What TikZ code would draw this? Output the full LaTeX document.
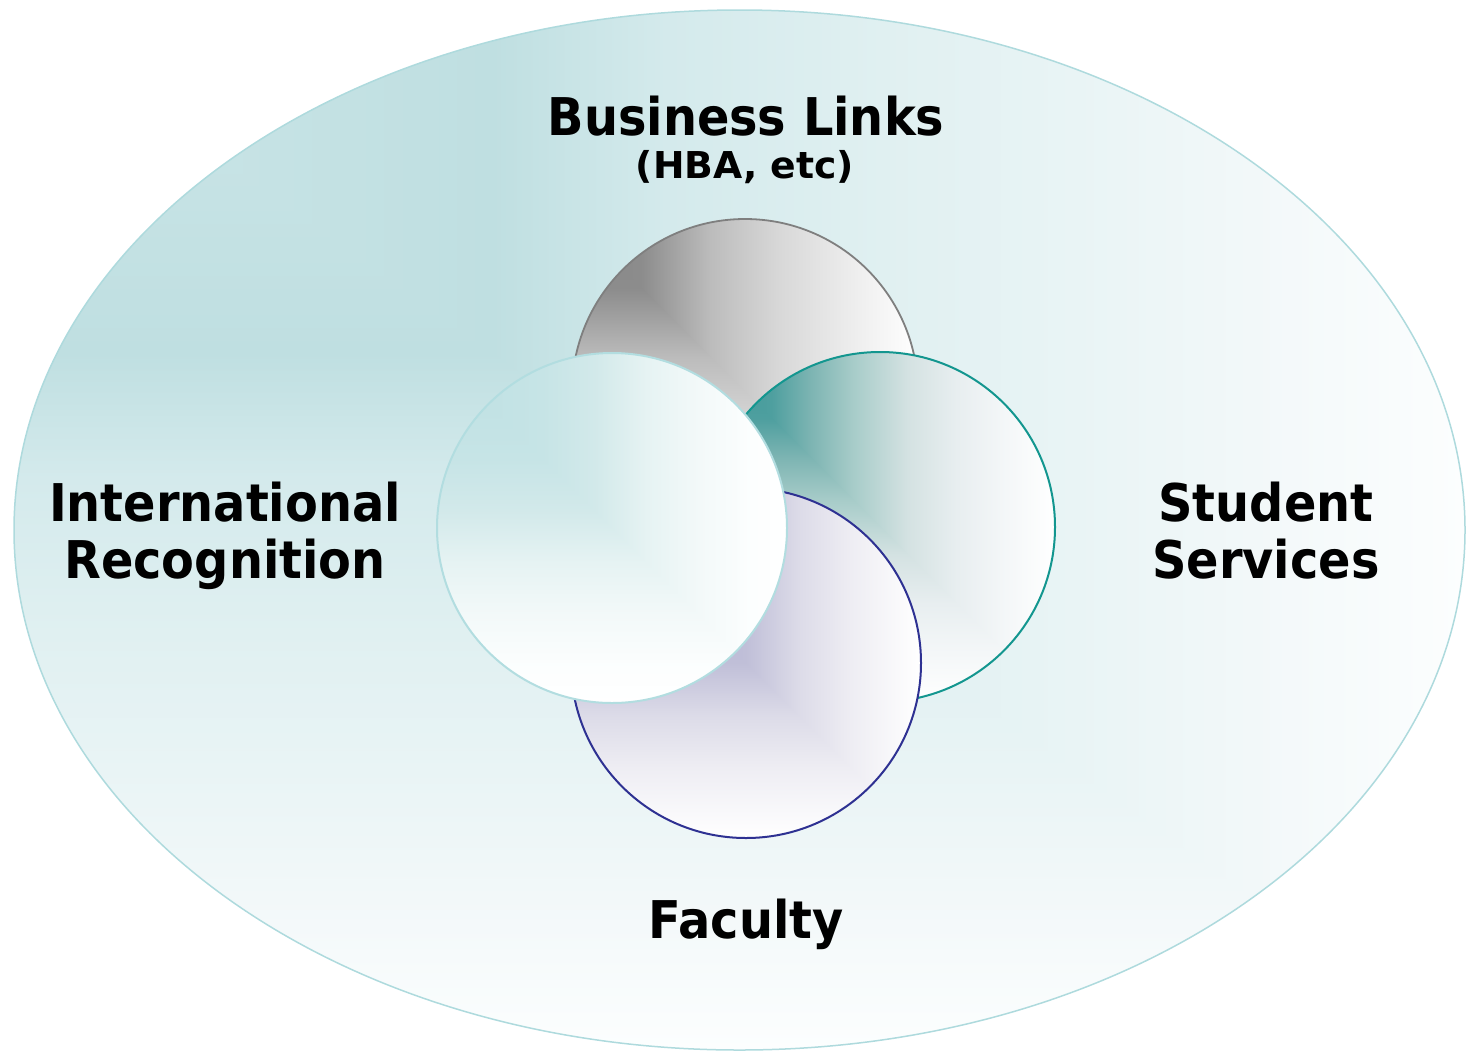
\documentclass[tikz,border=0pt]{standalone}
\usepackage{fontspec}
\setmainfont{DejaVu Sans}
\newfontfamily\biglblfont{DejaVu Sans Bold}[FakeStretch=0.92]
\newfontfamily\smalllblfont{DejaVu Sans Bold}[FakeStretch=1.02]
\usetikzlibrary{shapes.geometric}
% outer ellipse colours
\definecolor{eA}{HTML}{CDE6E8}\definecolor{eB}{HTML}{C5E2E4}\definecolor{eC}{HTML}{BFDFE1}
\definecolor{eD}{HTML}{D4EAEC}\definecolor{eE}{HTML}{E0F0F1}\definecolor{eF}{HTML}{EBF5F6}
\definecolor{eG}{HTML}{F4F9FA}\definecolor{eH}{HTML}{FCFEFE}
% gray
\definecolor{gA}{HTML}{888888}\definecolor{gB}{HTML}{8C8C8C}\definecolor{gC}{HTML}{BCBCBC}
\definecolor{gD}{HTML}{D8D8D8}\definecolor{gE}{HTML}{ECECEC}\definecolor{gF}{HTML}{FFFFFF}
% teal
\definecolor{tA}{HTML}{3A9898}\definecolor{tB}{HTML}{4E9F9F}\definecolor{tC}{HTML}{7CB4B2}
\definecolor{tD}{HTML}{A9CDCA}\definecolor{tE}{HTML}{D4E2E2}\definecolor{tF}{HTML}{E8EEF0}
\definecolor{tG}{HTML}{F4F7F8}\definecolor{tH}{HTML}{FFFFFF}
% purple
\definecolor{pA}{HTML}{AAA6CC}\definecolor{pB}{HTML}{C0BFD8}\definecolor{pC}{HTML}{DCDBE8}
\definecolor{pD}{HTML}{EEEDF3}\definecolor{pE}{HTML}{FFFFFF}
% light (left)
\definecolor{lA}{HTML}{BDE0E2}\definecolor{lB}{HTML}{C6E4E6}\definecolor{lC}{HTML}{D2E9EA}
\definecolor{lD}{HTML}{E6F3F3}\definecolor{lE}{HTML}{F3F9F9}\definecolor{lF}{HTML}{FCFEFE}
\definecolor{lG}{HTML}{FFFFFF}
% borders
\definecolor{ellborder}{HTML}{AEDADD}
\definecolor{grayborder}{HTML}{7F7F7F}
\definecolor{tealborder}{HTML}{13968F}
\definecolor{purpborder}{HTML}{2E3192}
\definecolor{leftborder}{HTML}{B2DDE0}
% shadings: t in [0,1] -> horizontal bp = 25+50t ; vertical bp = 75-50t
\pgfdeclarehorizontalshading{ellH}{100bp}{color(0bp)=(eA); color(25bp)=(eA); color(34bp)=(eB); color(41.5bp)=(eC); color(47.5bp)=(eD); color(55bp)=(eE); color(63bp)=(eF); color(69bp)=(eG); color(75bp)=(eH); color(100bp)=(eH)}
\pgfdeclareverticalshading{ellV}{100bp}{color(0bp)=(eH); color(25bp)=(eH); color(31bp)=(eG); color(37bp)=(eF); color(45bp)=(eE); color(52.5bp)=(eD); color(58.5bp)=(eC); color(66bp)=(eB); color(75bp)=(eA); color(100bp)=(eA)}
\pgfdeclarehorizontalshading{grayH}{100bp}{color(0bp)=(gA); color(25bp)=(gA); color(35bp)=(gB); color(45bp)=(gC); color(55bp)=(gD); color(65bp)=(gE); color(75bp)=(gF); color(100bp)=(gF)}
\pgfdeclareverticalshading{grayV}{100bp}{color(0bp)=(gF); color(25bp)=(gF); color(35bp)=(gE); color(45bp)=(gD); color(55bp)=(gC); color(65bp)=(gB); color(75bp)=(gA); color(100bp)=(gA)}
\pgfdeclarehorizontalshading{tealH}{100bp}{color(0bp)=(tA); color(25bp)=(tA); color(34.5bp)=(tB); color(40bp)=(tC); color(46.5bp)=(tD); color(54bp)=(tE); color(61bp)=(tF); color(68bp)=(tG); color(75bp)=(tH); color(100bp)=(tH)}
\pgfdeclareverticalshading{tealV}{100bp}{color(0bp)=(tH); color(25bp)=(tH); color(32bp)=(tG); color(39bp)=(tF); color(46bp)=(tE); color(53.5bp)=(tD); color(60bp)=(tC); color(65.5bp)=(tB); color(75bp)=(tA); color(100bp)=(tA)}
\pgfdeclarehorizontalshading{purpH}{100bp}{color(0bp)=(pA); color(25bp)=(pA); color(50bp)=(pB); color(57.5bp)=(pC); color(65bp)=(pD); color(75bp)=(pE); color(100bp)=(pE)}
\pgfdeclareverticalshading{purpV}{100bp}{color(0bp)=(pE); color(25bp)=(pE); color(35bp)=(pD); color(42.5bp)=(pC); color(50bp)=(pB); color(75bp)=(pA); color(100bp)=(pA)}
\pgfdeclarehorizontalshading{leftH}{100bp}{color(0bp)=(lA); color(25bp)=(lA); color(40bp)=(lB); color(47.5bp)=(lC); color(55bp)=(lD); color(62.5bp)=(lE); color(70bp)=(lF); color(75bp)=(lG); color(100bp)=(lG)}
\pgfdeclareverticalshading{leftV}{100bp}{color(0bp)=(lG); color(25bp)=(lG); color(30bp)=(lF); color(37.5bp)=(lE); color(45bp)=(lD); color(52.5bp)=(lC); color(60bp)=(lB); color(75bp)=(lA); color(100bp)=(lA)}
\tikzset{
  corner fill/.style 2 args={path picture={
    \shade[shading=#1] (path picture bounding box.south west) rectangle (path picture bounding box.north east);
    \clip (path picture bounding box.north west) -- (path picture bounding box.south west) -- (path picture bounding box.south east) -- cycle;
    \shade[shading=#2] (path picture bounding box.south west) rectangle (path picture bounding box.north east);
  }},
  disc/.style={circle, inner sep=0pt, minimum size=350pt},
  biglabel/.style={font=\fontsize{52}{60}\selectfont\biglblfont, anchor=base, inner sep=0pt},
  smalllabel/.style={font=\fontsize{37}{43}\selectfont\smalllblfont, anchor=base, inner sep=0pt},
}
\begin{document}
\begin{tikzpicture}[x=1pt,y=-1pt]
\useasboundingbox (0,0) rectangle (1466,1050);
\node[ellipse, inner sep=0pt, minimum width=1451pt, minimum height=1040pt,
      draw=ellborder, line width=1.5pt, corner fill={ellH}{ellV}] (outer) at (739.5,530) {};
\node[disc, minimum size=346pt, draw=grayborder, line width=1.8pt, corner fill={grayH}{grayV}] (gray) at (745,392) {};
\node[disc, draw=tealborder, line width=2pt, corner fill={tealH}{tealV}] (teal) at (880,527) {};
\node[disc, draw=purpborder, line width=2pt, corner fill={purpH}{purpV}] (purp) at (746,663) {};
\node[disc, draw=leftborder, line width=2pt, corner fill={leftH}{leftV}] (left) at (612,528) {};
\node[biglabel] (bus) at (746,135) {Business Links};
\node[smalllabel] (hba) at (745,178) {(HBA, etc)};
\node[biglabel] (intl) at (225,521) {International};
\node[biglabel] (recog) at (225,578) {Recognition};
\node[biglabel] (stud) at (1266,521) {Student};
\node[biglabel] (serv) at (1266,578) {Services};
\node[biglabel] (fac) at (746,938) {Faculty};
\end{tikzpicture}
\end{document}
